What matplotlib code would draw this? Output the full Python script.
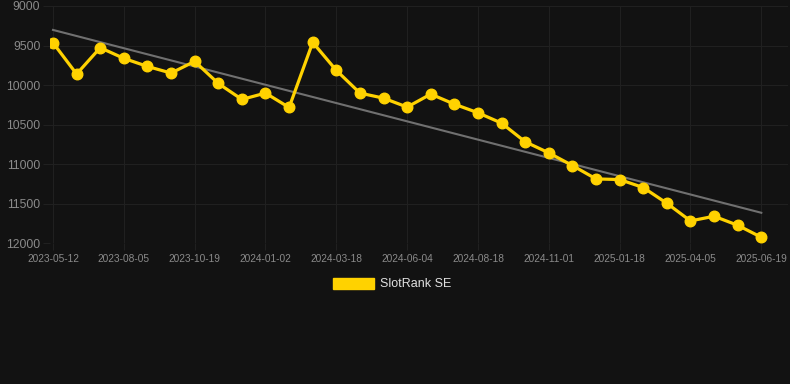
import numpy as np
import matplotlib
matplotlib.use("Agg")
import matplotlib.pyplot as plt
from matplotlib.patches import Patch

plt.rcParams['font.family'] = ['Liberation Sans', 'DejaVu Sans']

# rank values, one per sample (31 samples, evenly spaced on a category axis)
ranks = [9465, 9860, 9527, 9662, 9764, 9848, 9700, 9979, 10181, 10101,
         10283, 9460, 9814, 10101, 10165, 10278, 10114, 10241, 10350, 10481,
         10717, 10857, 11017, 11186, 11194, 11295, 11494, 11717, 11658, 11772,
         11924]
# labels shown on every third sample
tick_labels = ['2023-05-12', '2023-08-05', '2023-10-19', '2024-01-02',
               '2024-03-18', '2024-06-04', '2024-08-18', '2024-11-01',
               '2025-01-18', '2025-04-05', '2025-06-19']
series_name = 'SlotRank SE'

bg = '#121212'
grid_col = '#202020'
text_col = '#8a8a8a'
yellow = '#ffd200'

x = np.arange(len(ranks))
# linear trend through the data
k, b = np.polyfit(x, ranks, 1)
trend = k * x + b

fig = plt.figure(figsize=(7.9, 3.84), dpi=100, facecolor=bg)
ax = fig.add_axes([50 / 790, 1 - 243.3 / 384, (788 - 50) / 790, (243.3 - 6) / 384])
ax.set_facecolor(bg)

ax.plot(x, trend, color='#707070', lw=1.5, zorder=2)
ax.plot(x, ranks, color=yellow, lw=2.3, marker='o', ms=7.6, zorder=3)

ax.set_ylim(12000, 9000)
ax.set_yticks([9000, 9500, 10000, 10500, 11000, 11500, 12000])
ax.set_xlim(-3 / 23.61, (788 - 53) / 23.61)
ax.set_xticks(x[::3])
ax.set_xticklabels(tick_labels)

ax.grid(True, color=grid_col, lw=0.8)
ax.tick_params(axis='x', colors=grid_col, labelcolor=text_col, labelsize=7.3, length=5, width=0.8, pad=3)
ax.tick_params(axis='y', colors=grid_col, labelcolor=text_col, labelsize=8.8, length=5, width=0.8, pad=2)
for s in ax.spines.values():
    s.set_visible(False)

handle = Patch(facecolor=yellow, edgecolor=yellow)
fig.legend([handle], [series_name], loc='center', bbox_to_anchor=(392 / 790, 1 - 284 / 384),
           frameon=False, labelcolor='#e0e0e0', fontsize=9, handlelength=3.3, handleheight=1.0,
           handletextpad=0.5)

fig.savefig('out.png', dpi=100, facecolor=bg)
